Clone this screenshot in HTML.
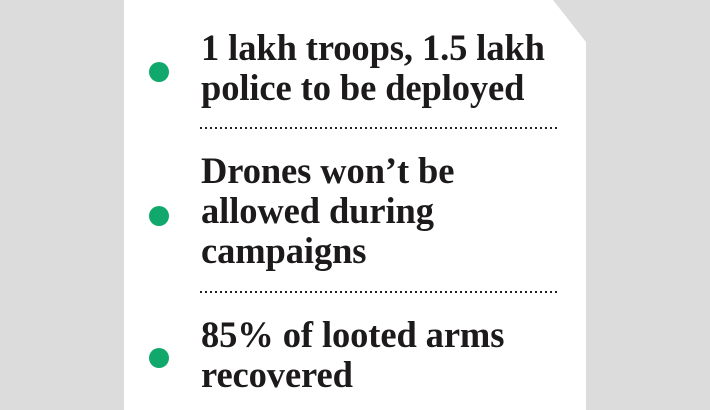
<!DOCTYPE html>
<html>
<head>
<meta charset="utf-8">
<style>
  html, body { margin: 0; padding: 0; }
  body { width: 710px; height: 410px; position: relative; overflow: hidden; background: #dcdcdc; }
  .card { position: absolute; left: 0; top: 0; width: 710px; height: 410px; }
  .txt {
    position: absolute; left: 201px;
    font-family: "Liberation Serif", serif; font-weight: bold;
    font-size: 36.5px; line-height: 40px; color: #1c1a1b;
    white-space: nowrap; letter-spacing: -0.1px;
  }
  .dot { position: absolute; left: 149px; width: 20px; height: 20px; border-radius: 50%; background: #10a96b; }
  .rule {
    position: absolute; left: 200px; width: 357px; height: 2px;
    background-image: repeating-linear-gradient(to right, #222 0, #222 2px, transparent 2px, transparent 5px);
  }
</style>
</head>
<body>
<svg class="card" width="710" height="410" viewBox="0 0 710 410">
  <polygon points="124,0 553,0 586,42 586,410 124,410" fill="#ffffff"/>
</svg>

<div class="dot" style="top:62px;"></div>
<div class="txt" style="top:28px;">1 lakh troops, 1.5 lakh<br>police to be deployed</div>
<div class="rule" style="top:127px;"></div>

<div class="dot" style="top:206px;"></div>
<div class="txt" style="top:151px;">Drones won’t be<br>allowed during<br>campaigns</div>
<div class="rule" style="top:291px;"></div>

<div class="dot" style="top:348px;"></div>
<div class="txt" style="top:315px;">85% of looted arms<br>recovered</div>
</body>
</html>
